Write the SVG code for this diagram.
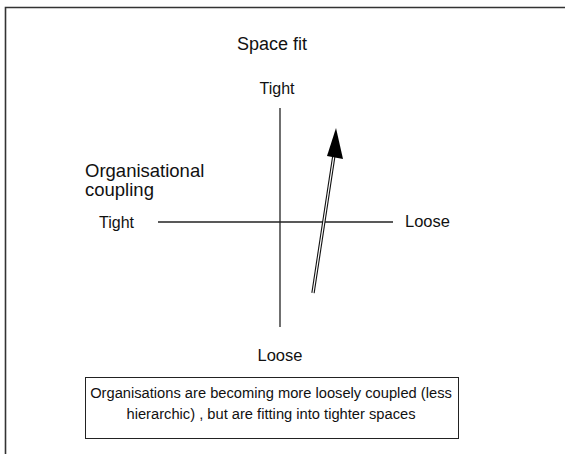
<svg xmlns="http://www.w3.org/2000/svg" width="565" height="454" viewBox="0 0 565 454">
<style>
text{font-family:"Liberation Sans",Arial,sans-serif;fill:#111}
.ax{stroke:#222;stroke-width:1.3;fill:none}
</style>
<rect width="565" height="454" fill="#fff"/>
<path d="M5.5,454 V7.5 H566" fill="none" stroke="#333" stroke-width="1.6"/>
<g id="connectors">
<line class="ax" x1="280" y1="108" x2="280" y2="327"/>
<line class="ax" x1="158" y1="222" x2="393" y2="222"/>
<g id="arrow">
<line x1="313" y1="293" x2="334" y2="155" stroke="#111" stroke-width="3.4"/>
<line x1="313" y1="293" x2="334" y2="155" stroke="#fff" stroke-width="1.2"/>
<polygon points="336,128 327,156 343,159" fill="#000"/>
</g>
</g>
<g id="title"><text x="272" y="50" font-size="18" text-anchor="middle">Space fit</text></g>
<g id="tight-top"><text x="277" y="94" font-size="16" text-anchor="middle">Tight</text></g>
<g id="loose-bottom"><text x="280" y="361" font-size="16.5" text-anchor="middle">Loose</text></g>
<g id="tight-left"><text x="99" y="228" font-size="16">Tight</text></g>
<g id="loose-right"><text x="405" y="227" font-size="16.5">Loose</text></g>
<g id="org-coupling"><text x="85" y="177" font-size="18.5">Organisational</text><text x="85" y="196" font-size="18.5">coupling</text></g>
<g id="note">
<rect x="85.5" y="377.5" width="373" height="61" fill="#fff" stroke="#222" stroke-width="1"/>
<text x="271" y="398" font-size="14.7" text-anchor="middle">Organisations are becoming more loosely coupled (less</text>
<text x="271" y="419" font-size="14.7" text-anchor="middle">hierarchic) , but are fitting into tighter spaces</text>
</g>
</svg>
